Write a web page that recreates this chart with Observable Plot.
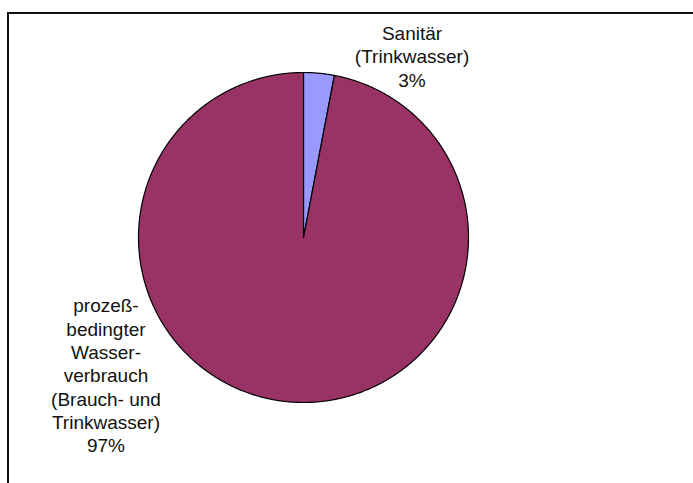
<!DOCTYPE html>
<html><head><meta charset="utf-8">
<script src="https://cdn.jsdelivr.net/npm/d3@7"></script>
<script src="https://cdn.jsdelivr.net/npm/@observablehq/plot@0.6"></script>
<style>
html,body{margin:0;padding:0;background:#fff;overflow:hidden;width:693px;height:483px}
#wrap{position:relative;width:693px;height:483px;overflow:hidden}
#wrap svg{position:absolute;left:0;top:0}
#border{position:absolute;left:7px;top:12px;width:800px;height:600px;border:2px solid #111;box-sizing:border-box;pointer-events:none;z-index:2}
</style></head><body>
<div id="wrap"></div>
<script>
const categories = ["Sanitär (Trinkwasser)", "prozeßbedingter Wasserverbrauch (Brauch- und Trinkwasser)"];
const values = [3, 97];
const labels = ["Sanitär\n(Trinkwasser)\n3%", "prozeß-\nbedingter\nWasser-\nverbrauch\n(Brauch- und\nTrinkwasser)\n97%"];
const colors = ["#9999FF", "#993366"];

const data = categories.map((c, i) => ({category: c, value: values[i], label: labels[i]}));
const arcs = d3.pie().sort(null).value(d => d.value)(data);

// outline of each slice (unit radius), drawn through Plot's x/y scales
const outline = [];
const step = Math.PI / 720;
for (const a of arcs) {
  outline.push({category: a.data.category, x: 0, y: 0});
  const n = Math.max(2, Math.ceil((a.endAngle - a.startAngle) / step));
  for (let k = 0; k <= n; k++) {
    const t = a.startAngle + (a.endAngle - a.startAngle) * k / n;
    outline.push({category: a.data.category, x: Math.sin(t), y: Math.cos(t)});
  }
  outline.push({category: a.data.category, x: 0, y: 0});
}
const mid = a => (a.startAngle + a.endAngle) / 2;
const font = "'Liberation Sans', Arial, sans-serif";

const chart = Plot.plot({
  width: 693,
  height: 483,
  x: {domain: [-1, 1], range: [138, 468], axis: null},
  y: {domain: [-1, 1], range: [402, 72], axis: null},
  color: {domain: categories, range: colors},
  style: {fontFamily: font, background: "white"},
  marks: [
    Plot.line(outline, {x: "x", y: "y", z: "category", fill: "category", stroke: "#000", strokeWidth: 1.2, strokeLinejoin: "round"}),
    Plot.text([arcs[0]], {x: a => Math.sin(mid(a)), y: a => Math.cos(mid(a)), text: a => a.data.label,
      dx: 93, dy: -17.5, fontSize: 19, lineHeight: 1.23, fill: "#111", textAnchor: "middle", fontFamily: font}),
    Plot.text([arcs[1]], {x: a => Math.sin(mid(a)), y: a => Math.cos(mid(a)), text: a => a.data.label,
      dx: -182, dy: -27, fontSize: 19, lineHeight: 1.23, fill: "#111", textAnchor: "middle", fontFamily: font})
  ]
});
const wrap = document.getElementById("wrap");
wrap.appendChild(chart);
const b = document.createElement("div");
b.id = "border";
wrap.appendChild(b);
</script>
</body></html>
